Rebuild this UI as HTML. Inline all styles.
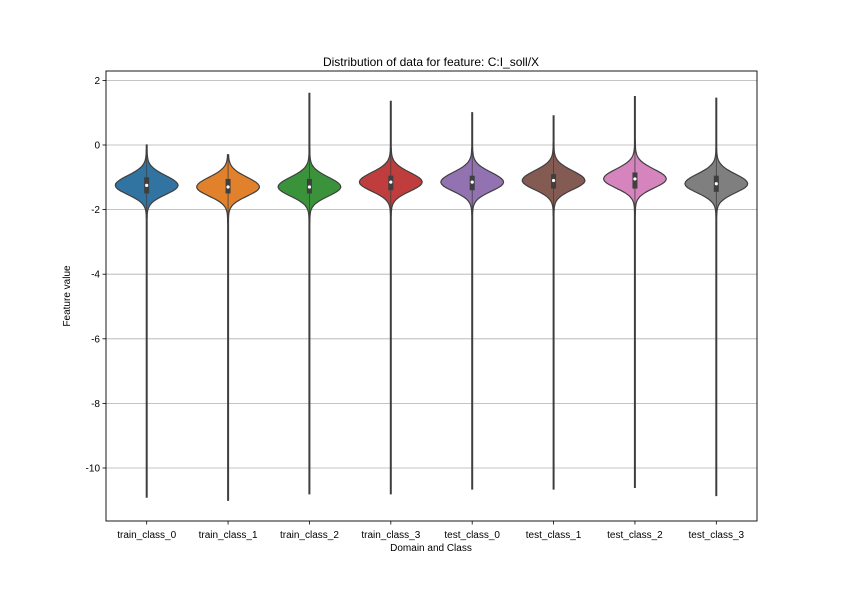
<!DOCTYPE html>
<html><head><meta charset="utf-8"><style>
body{margin:0;background:#fff}
svg text{font-family:"Liberation Sans","DejaVu Sans",sans-serif;fill:#000}
</style></head><body>
<svg id="chart" width="842" height="595" viewBox="0 0 842 595">
<rect width="842" height="595" fill="#fff"/>
<g id="grid"></g>
<g id="violins"></g>
<rect x="106" y="71" width="651" height="450" fill="none" stroke="#000" stroke-width="0.9"/>
<g id="axes"></g>
<text x="431" y="66" text-anchor="middle" font-size="12">Distribution of data for feature: C:I_soll/X</text>
<text x="431" y="551" text-anchor="middle" font-size="10">Domain and Class</text>
<text transform="translate(70,296) rotate(-90)" text-anchor="middle" font-size="10">Feature value</text>
</svg>
<script>
const categories=["train_class_0","train_class_1","train_class_2","train_class_3","test_class_0","test_class_1","test_class_2","test_class_3"];
const maxVals=[0.0,-0.3,1.6,1.35,1.0,0.9,1.5,1.45];
const minVals=[-10.9,-11.0,-10.8,-10.8,-10.65,-10.65,-10.6,-10.85];
const medians=[-1.25,-1.3,-1.3,-1.15,-1.15,-1.1,-1.05,-1.2];
const q1s=[-1.5,-1.5,-1.5,-1.4,-1.4,-1.35,-1.35,-1.45];
const q3s=[-1.0,-1.05,-1.05,-0.95,-0.95,-0.9,-0.85,-0.95];
const colors=["#3274a1","#e1812c","#3a923a","#c03d3e","#9372b2","#845b53","#d684bd","#7f7f7f"];
const yTicks=[2,0,-2,-4,-6,-8,-10];
const NS="http://www.w3.org/2000/svg";
const L=106,R=757;
function y(v){return 145-v*32.3;}
function x(i){return L+(R-L)*(i+0.5)/categories.length;}
function mk(t,a,p){const e=document.createElementNS(NS,t);for(const k in a)e.setAttribute(k,a[k]);p.appendChild(e);return e;}
const grid=document.getElementById('grid'),axes=document.getElementById('axes'),vg=document.getElementById('violins');
yTicks.forEach(v=>{
 const g=mk('line',{x1:L,x2:R,y1:y(v),y2:y(v),stroke:'#b0b0b0','stroke-width':0.8},grid);
 
 
 mk('line',{x1:L-3.5,x2:L,y1:y(v),y2:y(v),stroke:'#000','stroke-width':0.8},axes);
 const t=mk('text',{x:L-6,y:y(v)+3.5,'text-anchor':'end','font-size':10},axes);
 t.textContent=v;
 
 
});
categories.forEach((c,i)=>{
 const cx=x(i);
 mk('line',{x1:cx,x2:cx,y1:521,y2:524.5,stroke:'#000','stroke-width':0.8},axes);
 const t=mk('text',{x:cx,y:538,'text-anchor':'middle','font-size':10},axes);
 t.textContent=c;
 
 
 const m=medians[i];
 const pts=[];
 const N=200;
 for(let k=0;k<=N;k++){
  const v=maxVals[i]-(maxVals[i]-minVals[i])*k/N;
  const s=v>m?0.3:0.28;
  const d=(v-m)/s;
  let w=31*Math.exp(-d*d/2)+0.4;
  pts.push([v,w]);
 }
 let dstr='';
 pts.forEach((p,k)=>{dstr+=(k?'L':'M')+(cx+p[1]).toFixed(1)+','+y(p[0]).toFixed(1);});
 for(let k=pts.length-1;k>=0;k--){dstr+='L'+(cx-pts[k][1]).toFixed(1)+','+y(pts[k][0]).toFixed(1);}
 dstr+='Z';
 const p=mk('path',{d:dstr,fill:colors[i],stroke:'#3f3f3f','stroke-width':1.2},vg);
 
 
 mk('line',{x1:cx,x2:cx,y1:y(maxVals[i]),y2:y(minVals[i]),stroke:'#3f3f3f','stroke-width':0.8},vg);
 mk('rect',{x:cx-2.5,y:y(q3s[i]),width:5,height:y(q1s[i])-y(q3s[i]),fill:'#3f3f3f'},vg);
 mk('circle',{cx:cx,cy:y(m),r:1.6,fill:'#fff'},vg);
});
</script>
</body></html>
